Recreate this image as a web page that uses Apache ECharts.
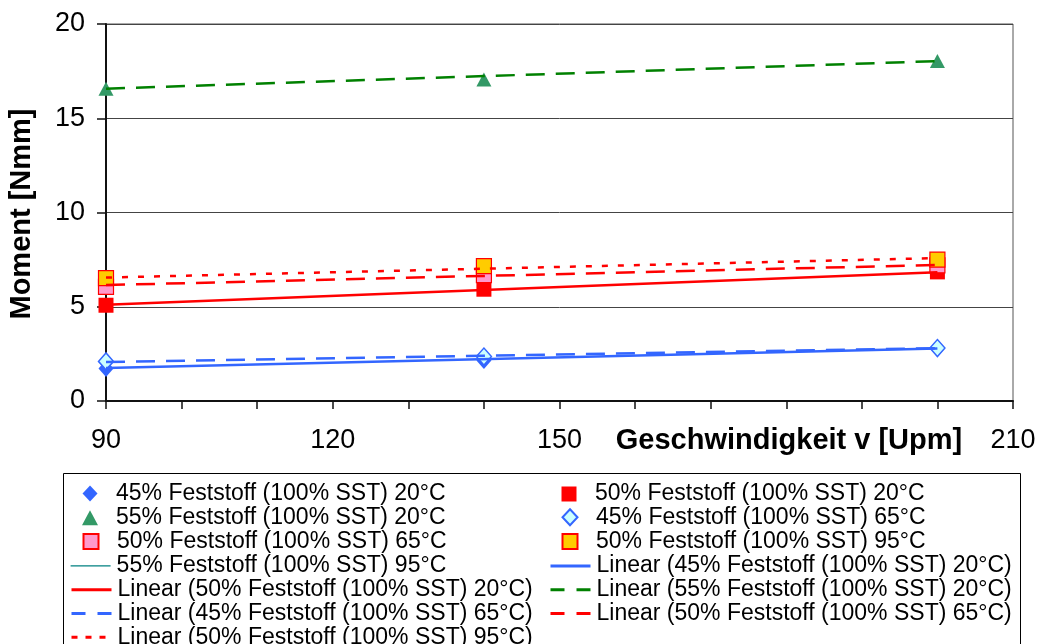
<!DOCTYPE html>
<html>
<head>
<meta charset="utf-8">
<script src="https://cdn.jsdelivr.net/npm/echarts@6/dist/echarts.min.js"></script>
<style>html,body{margin:0;padding:0;background:#fff}#c{width:1040px;height:644px}</style>
</head>
<body>
<div id="c"></div>
<script>
// ---- data ----
const speeds = [90, 140, 200];
const f45_20 = [1.72, 2.15, 2.80];
const f50_20 = [5.08, 5.93, 6.85];
const f55_20 = [16.57, 17.05, 18.04];
const f45_65 = [2.10, 2.36, 2.81];
const f50_65 = [6.05, 6.68, 7.20];
const f50_95 = [6.52, 7.15, 7.50];
const f55_95 = [];
const trendSpeeds = [90, 200];
const lin45_20 = [1.75, 2.79];
const lin50_20 = [5.10, 6.83];
const lin55_20 = [16.57, 18.03];
const lin45_65 = [2.07, 2.80];
const lin50_65 = [6.15, 7.22];
const lin50_95 = [6.55, 7.58];
const xLabelsShown = [90, 120, 150, 210];
const yTicks = [0, 5, 10, 15, 20];

const names = {
  a: '45% Feststoff (100% SST) 20°C',
  b: '50% Feststoff (100% SST) 20°C',
  c: '55% Feststoff (100% SST) 20°C',
  d: '45% Feststoff (100% SST) 65°C',
  e: '50% Feststoff (100% SST) 65°C',
  f: '50% Feststoff (100% SST) 95°C',
  g: '55% Feststoff (100% SST) 95°C',
  la: 'Linear (45% Feststoff (100% SST) 20°C)',
  lb: 'Linear (50% Feststoff (100% SST) 20°C)',
  lc: 'Linear (55% Feststoff (100% SST) 20°C)',
  ld: 'Linear (45% Feststoff (100% SST) 65°C)',
  le: 'Linear (50% Feststoff (100% SST) 65°C)',
  lf: 'Linear (50% Feststoff (100% SST) 95°C)'
};
// legend order (rows, two columns)
const legendRows = [
  [names.a, names.b], [names.c, names.d], [names.e, names.f], [names.g, names.la],
  [names.lb, names.lc], [names.ld, names.le], [names.lf, null]
];

const FONT = '"Liberation Sans", Arial, sans-serif';
const pts = (xs, ys) => ys.map((y, i) => [xs[i], y]);

// legend icon styling per entry
const legendIcon = {};
function scatter(name, ys, symbol, size, legendSize, color, border, bw) {
  legendIcon[name] = { kind: 'symbol', w: legendSize[0], h: legendSize[1] };
  return {
    type: 'scatter', name, data: pts(speeds, ys), symbol, symbolSize: size, z: 2,
    itemStyle: { color, borderColor: border, borderWidth: bw, opacity: 1 },
    emphasis: { disabled: true }
  };
}
function trend(name, ys, color, type, width, legendType, legendWidth) {
  legendIcon[name] = { kind: 'line', type: legendType, width: legendWidth };
  return {
    type: 'line', name, data: pts(trendSpeeds, ys), symbol: 'none', z: 3,
    lineStyle: { color, type, width, cap: 'butt' }, itemStyle: { color },
    emphasis: { disabled: true }
  };
}

const series = [
  scatter(names.a, f45_20, 'diamond', [15, 17], [15, 16], '#3366FF', '#3366FF', 0),
  scatter(names.b, f50_20, 'rect', 15, [15, 15], '#FF0000', '#FF0000', 0),
  scatter(names.c, f55_20, 'triangle', [15, 14], [16, 15], '#339966', '#339966', 0),
  scatter(names.d, f45_65, 'diamond', [15, 17], [15, 16], '#CCFFFF', '#3366FF', 1.5),
  scatter(names.e, f50_65, 'rect', 15, [15, 15], '#FF99CC', '#FF0000', 1.2),
  scatter(names.f, f50_95, 'rect', 15, [15, 15], '#FFCC00', '#FF0000', 1.2),
  trend(names.g, f55_95, '#008080', 'solid', 1, 'solid', 1.2),
  trend(names.la, lin45_20, '#3366FF', 'solid', 2.5, 'solid', 3),
  trend(names.lb, lin50_20, '#FF0000', 'solid', 2.5, 'solid', 3),
  trend(names.lc, lin55_20, '#008000', [19, 11], 2.5, [14, 12], 3),
  trend(names.ld, lin45_65, '#3366FF', [19, 11], 2.5, [14, 12], 3),
  trend(names.le, lin50_65, '#FF0000', [19, 11], 2.5, [14, 12], 3),
  trend(names.lf, lin50_95, '#FF0000', [6, 10], 2.5, [6, 8], 3)
];

// one legend component per entry, laid out in a two-column grid
const legends = [];
const colIconLeft = [70, 549];   // left edge of a 40px line icon
const rowCenter0 = 490, rowStep = 23.8;
legendRows.forEach((row, r) => {
  row.forEach((name, c) => {
    if (!name) return;
    const ic = legendIcon[name];
    const cy = rowCenter0 + r * rowStep;
    const base = {
      data: [name], orient: 'horizontal', padding: 0, selectedMode: false,
      textStyle: { fontSize: 23, fontFamily: FONT, color: '#000' }
    };
    if (ic.kind === 'symbol') {
      const left = colIconLeft[c] + 20 - ic.w / 2;
      legends.push(Object.assign(base, {
        left: left, top: cy - ic.h / 2,
        itemWidth: ic.w, itemHeight: ic.h,
        textStyle: Object.assign(base.textStyle, { padding: [0, 0, 0, (colIconLeft[c] + 46) - (left + ic.w + 5)] })
      }));
    } else {
      legends.push(Object.assign(base, {
        left: colIconLeft[c], top: cy - 7, itemWidth: 40, itemHeight: 14,
        itemStyle: { opacity: 0 },
        lineStyle: { type: ic.type, width: ic.width, cap: 'butt' },
        textStyle: Object.assign(base.textStyle, { padding: [0, 0, 0, 1] })
      }));
    }
  });
});

const option = {
  animation: false,
  backgroundColor: '#fff',
  grid: { left: 106, right: 27, top: 24, bottom: 243, show: true, borderColor: '#555', borderWidth: 1, backgroundColor: 'transparent' },
  xAxis: {
    type: 'value', min: 90, max: 210, interval: 10,
    axisLine: { show: true, onZero: false, lineStyle: { color: '#111', width: 2 } },
    axisTick: { show: true, inside: false, length: 8, lineStyle: { color: '#111', width: 1.5 } },
    splitLine: { show: false },
    axisLabel: {
      margin: 26, fontSize: 27, fontFamily: FONT, color: '#000',
      formatter: v => xLabelsShown.indexOf(v) >= 0 ? String(v) : ''
    }
  },
  yAxis: {
    type: 'value', min: yTicks[0], max: yTicks[yTicks.length - 1], interval: 5,
    axisLine: { show: true, onZero: false, lineStyle: { color: '#111', width: 2 } },
    axisTick: { show: true, inside: false, length: 9, lineStyle: { color: '#111', width: 1.5 } },
    splitLine: { show: true, lineStyle: { color: '#444', width: 1 } },
    axisLabel: { margin: 21, fontSize: 27, fontFamily: FONT, color: '#000' }
  },
  legend: legends,
  graphic: [
    { type: 'rect', left: 63, top: 473, z: -1, shape: { width: 957, height: 190 }, style: { fill: '#fff', stroke: '#000', lineWidth: 1 } },
    { type: 'text', x: 789, y: 441, style: { text: 'Geschwindigkeit v [Upm]', font: 'bold 29px ' + FONT, fill: '#000', align: 'center', verticalAlign: 'middle', backgroundColor: '#fff' } },
    { type: 'text', x: 22, y: 214, rotation: Math.PI / 2, style: { text: 'Moment [Nmm]', font: 'bold 29px ' + FONT, fill: '#000', align: 'center', verticalAlign: 'middle' } }
  ],
  series
};

const chart = echarts.init(document.getElementById('c'), null, { renderer: 'canvas' });
chart.setOption(option);
</script>
</body>
</html>
